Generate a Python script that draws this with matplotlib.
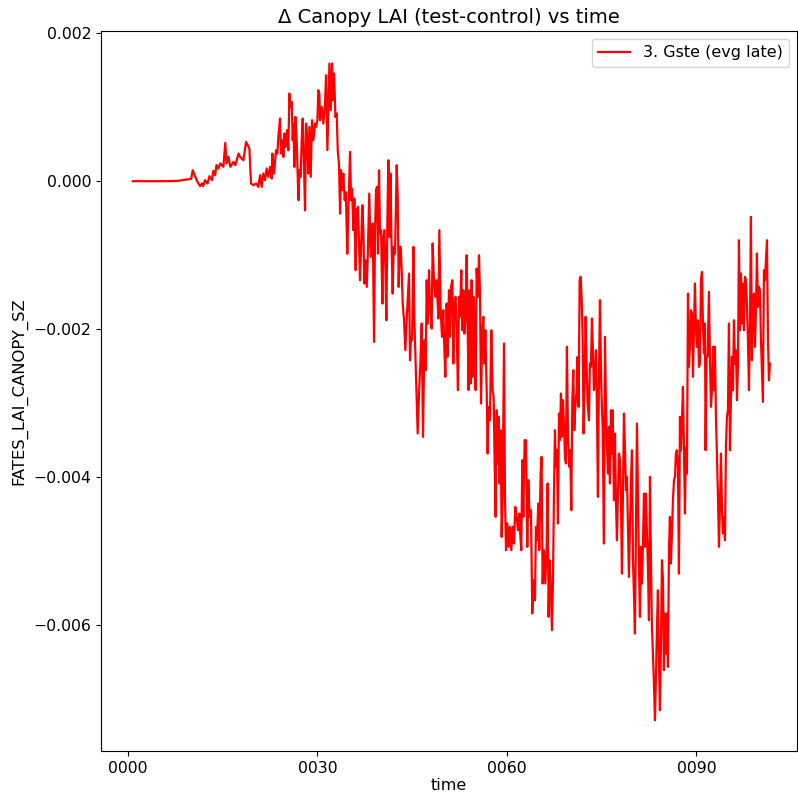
import numpy as np
import matplotlib
matplotlib.use("Agg")
import matplotlib.pyplot as plt
from matplotlib.ticker import FuncFormatter

# ====== data (time in model years, delta LAI in 1e-4) ======
years = [
    0.75, 3.0, 6.0, 8.0, 9.0, 10.0,
    10.24, 10.6, 11.0, 11.4, 11.7, 11.9, 12.2, 12.6, 12.9, 13.3, 13.5, 13.8, 14.0, 14.3,
    14.6, 15.1, 15.4, 15.6, 15.9, 16.2, 16.7, 17.0, 17.5,
    17.74, 18.27, 18.69, 19.22, 19.48, 19.85, 20.27, 20.64, 20.91, 21.17, 21.43, 21.7,
    21.96, 22.23, 22.49, 22.75, 22.86, 23.12, 23.44, 23.65, 23.81, 24.07, 24.23, 24.44,
    24.6, 24.76, 24.97, 25.18, 25.39, 25.55, 25.71, 25.92, 26.08, 26.19, 26.34, 26.5,
    26.71, 26.98, 27.14, 27.35, 27.5, 27.66, 27.87, 28.03, 28.19, 28.4, 28.56, 28.72,
    28.93, 29.14, 29.35, 29.62, 29.78, 29.99, 30.14, 30.3, 30.41, 30.67, 30.94, 31.2,
    31.36, 31.57, 31.73, 31.89, 32.1, 32.31, 32.41, 32.63, 32.84, 33.05, 33.21, 33.42,
    33.58, 33.73, 33.89, 34.1, 34.31, 34.5, 34.72, 34.9, 35.16, 35.32, 35.47, 35.69,
    35.84, 36.05, 36.21, 36.42, 36.58, 36.74, 36.9, 37.11, 37.27, 37.43, 37.59, 37.8,
    37.95, 38.2, 38.43, 38.59, 38.75, 38.96, 39.12, 39.27, 39.43, 39.59, 39.75, 39.91,
    40.07, 40.28, 40.44, 40.59, 40.75, 40.91, 41.07, 41.23, 41.39, 41.55, 41.71, 41.91,
    42.07, 42.28, 42.55, 42.71, 42.86, 43.02, 43.18, 43.34, 43.5, 43.71, 43.92, 44.13,
    44.34, 44.5, 44.66, 44.82, 44.98, 45.19, 45.35, 45.5, 45.71, 45.87, 46.08, 46.3,
    46.51, 46.72, 46.93, 47.14, 47.3, 47.46, 47.67, 47.82,
    48.08, 48.24, 48.45, 48.66, 48.88, 49.14, 49.3, 49.51, 49.72, 49.93, 50.09, 50.25,
    50.46, 50.62, 50.83, 50.99, 51.15, 51.36, 51.52, 51.67, 51.88, 52.04, 52.25, 52.41,
    52.57, 52.78, 52.94, 53.1, 53.26, 53.47, 53.63, 53.79, 53.94, 54.1, 54.26, 54.42,
    54.58, 54.73, 54.89, 55.05, 55.21, 55.42, 55.58, 55.74, 55.9, 56.11, 56.27, 56.43,
    56.59, 56.8, 56.95, 57.11, 57.32, 57.53, 57.74, 57.9, 58.06, 58.22, 58.38, 58.54,
    58.69, 58.85, 59.01, 59.17, 59.33, 59.54, 59.7, 59.86, 60.07, 60.28, 60.49, 60.7,
    60.91, 61.12, 61.33, 61.54, 61.76, 61.97,
    62.07, 62.28, 62.44, 62.6, 62.81, 63.02, 63.23, 63.39, 63.6, 63.81, 64.02, 64.23,
    64.45, 64.6, 64.76, 64.97, 65.13, 65.34, 65.5, 65.66, 65.87, 66.08, 66.29, 66.45,
    66.61, 66.77, 66.93, 67.14, 67.3, 67.45, 67.61, 67.77, 67.93, 68.09, 68.25, 68.4,
    68.56, 68.72, 68.88, 69.04, 69.2, 69.35, 69.51, 69.67, 69.88, 70.04, 70.2, 70.36,
    70.52, 70.67, 70.83, 71.04, 71.2, 71.36, 71.52, 71.68, 71.83, 71.99, 72.15, 72.31,
    72.47, 72.63, 72.79, 73.0, 73.15, 73.31, 73.47, 73.63, 73.79, 73.95, 74.11, 74.26,
    74.42, 74.58, 74.74,
    74.95, 75.16, 75.37, 75.53, 75.69, 75.85, 76.01, 76.17, 76.32, 76.48, 76.64, 76.75,
    76.96, 77.12, 77.27, 77.43, 77.59, 77.75, 77.91, 78.07, 78.22, 78.38, 78.54, 78.7,
    78.86, 79.02, 79.17, 79.33, 79.49, 79.65, 79.81, 79.97, 80.12, 80.28, 80.44, 80.6,
    80.76, 80.92, 81.07, 81.23, 81.39, 81.55, 81.71, 81.87, 82.02, 82.18, 82.34, 82.5,
    82.66, 82.82, 82.97, 83.13, 83.29, 83.45, 83.61, 83.77, 83.92, 84.08, 84.24, 84.4,
    84.56, 84.72, 84.87, 85.03, 85.19, 85.35, 85.51, 85.67, 85.82, 85.98, 86.14, 86.3,
    86.46, 86.62, 86.77, 86.93, 87.09, 87.25, 87.41, 87.57, 87.73, 87.88, 88.04, 88.2,
    88.36, 88.52, 88.68, 88.83, 88.99, 89.15, 89.31, 89.47, 89.63, 89.78, 89.94, 90.1,
    90.26, 90.42,
    90.58, 90.74, 90.9, 91.05, 91.21, 91.37, 91.47, 91.63, 91.79, 92.0, 92.16, 92.32,
    92.48, 92.64, 92.79, 92.95, 93.11, 93.27, 93.43, 93.59, 93.74, 93.9, 94.06, 94.22,
    94.38, 94.54, 94.69, 94.85, 95.01, 95.17, 95.33, 95.49, 95.64, 95.8, 95.96, 96.12,
    96.28, 96.44, 96.6, 96.75, 96.91, 97.07, 97.23, 97.39, 97.55, 97.71, 97.86, 98.02,
    98.18, 98.34, 98.5, 98.65, 98.81, 98.97, 99.13, 99.29, 99.45, 99.6, 99.76, 99.92,
    100.08, 100.24, 100.4, 100.55, 100.71, 100.87, 101.03, 101.19, 101.35, 101.5, 101.66,
]

dlai_e4 = [
    0.0, 0.0, 0.0, 0.05, 0.2, 0.3,
    1.49, 0.68, -0.09, -0.67, -0.31, -0.67, 0.14, -0.31, 0.68, 0.14, 1.4, 0.81, 2.17, 1.7,
    2.4, 1.94, 5.18, 2.4, 3.3, 1.94, 2.6, 2.17, 3.74,
    3.28, 2.83, 5.31, 4.41, -0.32, -0.55, -0.32, -0.77, 0.81, -0.77, 1.03, 0.13,
    1.71, 0.58, 1.93, 0.35, 3.73, 1.03, 4.18, 3.73, 5.99, 8.46, 3.73, 5.54,
    3.28, 6.44, 4.63, 6.89, 4.18, 11.84, 10.04, 10.72, 5.54, 7.79, 1.93, 8.69,
    5.54, -2.57, 1.48, 0.58, 5.54, 8.46, 1.93, -3.93, 7.79, 5.54, 1.03, 7.34,
    0.58, 8.24, 5.54, 7.79, 7.34, 8.24, 12.29, 11.84, 8.24, 10.04, 7.79, 10.49,
    14.32, 4.18, 10.04, 15.9, 9.59, 15.9, 10.94, 14.55, 8.69, 9.14, 4.18, 2.16,
    -4.38, 1.48, -1.22, 1.03, -2.57, -1.5, -9.8, -3.9, 3.96, -2.57, -1.0, -6.63,
    -2.35, -12.03, -3.92, -3.47, -8.2, -13.38, -9.33, -3.25, -6.63, -13.83, -10.68, -14.29,
    -10.68, -1.67, -10.23, -9.78, -5.73, -21.72, -6.63, -1.22, -0.77, -9.78, 1.48, -7.08,
    -6.63, -16.54, -7.53, -6.63, -11.13, -18.79, -5.28, 2.83, -7.53, 1.03, -7.53, -15.19,
    -8.88, -9.78, 2.16, -2.12, -14.29, -8.88, -8.88, -12.03, -16.54, -18.79, -22.85, -18.79,
    -15.19, -12.48, -24.2, -21.04, -21.49, -8.88, -18.79, -23.3, -29.6, -34.1, -28.7, -24.65,
    -19.24, -34.56, -21.49, -25.55, -13.38, -19.24, -12.03, -17.0,
    -19.91, -8.42, -13.38, -15.63, -13.38, -18.56, -6.62, -17.43, -21.04, -17.43, -22.39, -26.44,
    -16.53, -23.74, -14.73, -21.04, -14.28, -13.38, -24.64, -16.53, -15.63, -20.14, -28.24, -15.63,
    -18.33, -12.03, -20.14, -14.73, -20.59, -18.33, -10.0, -20.14, -28.24, -14.73, -27.34, -13.38,
    -26.44, -15.63, -20.14, -28.24, -11.8, -15.63, -10.0, -15.18, -30.05, -20.14, -18.33, -24.64,
    -20.14, -28.24, -36.8, -30.5, -32.3, -20.14, -28.24, -29.15, -38.15, -45.36, -30.95, -38.15,
    -31.85, -40.86, -33.65, -48.07, -42.66, -21.94, -42.66, -49.87, -46.26, -49.42, -46.71, -49.87,
    -46.71, -48.97, -44.01, -45.36, -47.16, -44.91,
    -47.16, -49.87, -37.7, -45.36, -35.0, -35.0, -49.42, -40.4, -45.36, -44.46, -58.42, -53.92,
    -56.62, -46.71, -48.51, -43.56, -49.87, -39.5, -37.25, -54.37, -49.87, -54.37, -49.87, -40.86,
    -58.87, -51.22, -54.37, -60.68, -53.92, -42.66, -33.65, -38.6, -36.35, -46.26, -31.4, -35.0,
    -28.69, -34.55, -29.59, -32.75, -37.25, -38.15, -22.38, -34.1, -38.6, -36.35, -44.46, -29.59,
    -25.54, -33.65, -30.49, -28.24, -23.74, -30.49, -13.37, -12.92, -15.63, -20.58, -34.1, -27.34,
    -18.33, -25.09, -30.04, -32.3, -24.64, -25.09, -18.56, -22.84, -28.24, -26.44, -22.84, -30.49,
    -42.66, -26.44, -16.08,
    -27.8, -33.2, -48.97, -21.04, -30.05, -35.91, -39.51, -33.2, -40.86, -30.95, -36.81, -30.95,
    -43.12, -34.11, -43.12, -48.52, -42.22, -36.81, -37.71, -43.12, -53.03, -42.22, -31.4, -35.91,
    -41.76, -39.96, -46.27, -53.48, -46.72, -40.41, -36.36, -51.22, -55.73, -61.14, -46.72, -32.75,
    -42.22, -52.13, -58.88, -49.42, -54.38, -48.97, -42.22, -49.42, -42.22, -47.62, -52.13, -59.33,
    -39.96, -51.22, -60.24, -63.84, -67.89, -72.85, -66.99, -60.24, -55.28, -64.74, -71.5, -62.49,
    -51.22, -53.93, -66.09, -58.43, -63.84, -58.43, -65.64, -49.87, -45.37, -51.67, -47.62, -43.12,
    -40.41, -39.96, -36.81, -36.36, -38.61, -53.03, -31.85, -36.36, -32.3, -27.8, -35.91, -44.92,
    -35.91, -39.51, -15.19, -25.1, -22.39, -17.44, -17.89, -26.45, -19.69, -13.83, -19.69, -22.39,
    -18.79, -25.1,
    -24.65, -13.38, -12.26, -19.24, -23.29, -19.24, -36.36, -23.74, -23.74, -14.96, -23.74, -30.5,
    -28.25, -22.39, -28.25, -22.39, -31.85, -37.26, -42.67, -49.42, -44.02, -36.81, -44.02, -47.62,
    -45.37, -48.52, -35.91, -31.85, -30.95, -19.24, -36.36, -29.15, -23.74, -28.25, -18.79, -24.65,
    -22.84, -29.6, -24.65, -7.98, -20.14, -12.48, -19.24, -13.83, -20.14, -12.93, -13.38, -16.54,
    -21.49, -28.25, -19.24, -4.82, -24.2, -16.54, -15.19, -22.39, -17.44, -9.78, -16.99, -14.28,
    -14.74, -21.49, -26.0, -29.83, -12.03, -13.38, -10.68, -7.98, -21.49, -26.9, -24.65,
]

x_ticks = [0, 30, 60, 90]
series_label = "3. Gste (evg late)"

t = np.array(years)
y = np.array(dlai_e4) * 1e-4

# ====== plot ======
fig = plt.figure(figsize=(7.98, 7.94), dpi=100)
ax = fig.add_axes([0.1266, 0.0542, 0.8721, 0.9068])
ax.plot(t, y, color="red", linewidth=1.6, label=series_label)

ax.set_xlim(-4.28, 105.94)
ax.set_ylim(-0.00770, 0.00203)
ax.set_xticks(x_ticks)
ax.xaxis.set_major_formatter(FuncFormatter(lambda v, pos: "%04d" % int(round(v))))
ax.tick_params(labelsize=11.3)

ax.set_title("Δ Canopy LAI (test-control) vs time", fontsize=14)
ax.set_xlabel("time", fontsize=11.5, labelpad=2)
ax.set_ylabel("FATES_LAI_CANOPY_SZ", fontsize=11.8)
ax.legend(loc="upper right", fontsize=11.5)

fig.savefig("out.png", dpi=100)
